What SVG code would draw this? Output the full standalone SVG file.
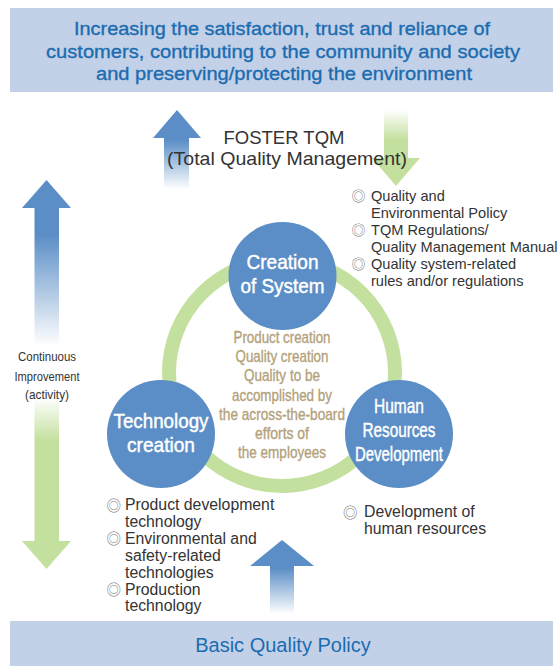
<svg xmlns="http://www.w3.org/2000/svg" width="559" height="666" viewBox="0 0 559 666">
<style>
.banner{fill:#c3d1e8}
.btxt{font-family:"Liberation Sans",Arial,sans-serif;fill:#1b6cb0;stroke:#1b6cb0;stroke-width:0.35;text-anchor:middle}
.node{fill:#5b8ec6}
.ntxt{font-family:"Liberation Sans",Arial,sans-serif;fill:#ffffff;stroke:#ffffff;stroke-width:0.45;text-anchor:middle;font-size:21px}
.ctxt{font-family:"Liberation Sans",Arial,sans-serif;fill:#b3a17a;stroke:#b3a17a;stroke-width:0.35;text-anchor:middle;font-size:17px}
.lst{font-family:"Liberation Sans",Arial,sans-serif;fill:#333333;font-size:14.6px}
.lst2{font-family:"Liberation Sans",Arial,sans-serif;fill:#333333;font-size:15.8px}
.bul{font-family:"Noto Sans CJK JP","DejaVu Sans",sans-serif;fill:#808080}
.gtxt{font-family:"Liberation Sans",Arial,sans-serif;fill:#333333;text-anchor:middle}
</style>
<defs>
<linearGradient id="gTopBlue" gradientUnits="userSpaceOnUse" x1="0" y1="140" x2="0" y2="189">
<stop offset="0" stop-color="#5b8ec6"/><stop offset="1" stop-color="#5b8ec6" stop-opacity="0"/>
</linearGradient>
<linearGradient id="gTopGreen" gradientUnits="userSpaceOnUse" x1="0" y1="110" x2="0" y2="140">
<stop offset="0" stop-color="#c4e09e" stop-opacity="0"/><stop offset="1" stop-color="#c4e09e"/>
</linearGradient>
<linearGradient id="gLeftBlue" gradientUnits="userSpaceOnUse" x1="0" y1="235" x2="0" y2="346">
<stop offset="0" stop-color="#5b8ec6"/><stop offset="1" stop-color="#5b8ec6" stop-opacity="0"/>
</linearGradient>
<linearGradient id="gLeftGreen" gradientUnits="userSpaceOnUse" x1="0" y1="398" x2="0" y2="440">
<stop offset="0" stop-color="#c4e09e" stop-opacity="0"/><stop offset="1" stop-color="#c4e09e"/>
</linearGradient>
<linearGradient id="gBotBlue" gradientUnits="userSpaceOnUse" x1="0" y1="568" x2="0" y2="614">
<stop offset="0" stop-color="#5b8ec6"/><stop offset="1" stop-color="#5b8ec6" stop-opacity="0"/>
</linearGradient>
</defs>
<rect width="559" height="666" fill="#ffffff"/>

<g id="goal">
<rect class="banner" x="10" y="8" width="543" height="84"/>
<text class="btxt" x="282" y="35" font-size="18.5" textLength="416" lengthAdjust="spacingAndGlyphs">Increasing the satisfaction, trust and reliance of</text>
<text class="btxt" x="283" y="57.5" font-size="18.5" textLength="474" lengthAdjust="spacingAndGlyphs">customers, contributing to the community and society</text>
<text class="btxt" x="284" y="80" font-size="18.5" textLength="376" lengthAdjust="spacingAndGlyphs">and preserving/protecting the environment</text>
</g>

<g id="policy">
<rect class="banner" x="10" y="621" width="543" height="45"/>
<text x="283" y="652" font-size="20" font-family="Liberation Sans, Arial, sans-serif" fill="#1b6cb0" text-anchor="middle">Basic Quality Policy</text>
</g>

<g id="connectors">
<circle cx="282" cy="373" r="113" fill="none" stroke="#c4e09e" stroke-width="14"/>
<path d="M177,110 L201,138 L189,138 L189,189 L164,189 L164,138 L153,138 Z" fill="url(#gTopBlue)"/>
<path d="M384,110 L408,110 L408,158 L420,158 L396,186 L372,158 L384,158 Z" fill="url(#gTopGreen)"/>
<path d="M46.5,180 L71,208 L59,208 L59,346 L34.5,346 L34.5,208 L22,208 Z" fill="url(#gLeftBlue)"/>
<path d="M34.5,398 L59,398 L59,541 L71,541 L46.5,569 L22,541 L34.5,541 Z" fill="url(#gLeftGreen)"/>
<path d="M282,540 L314,566 L294,566 L294,614 L270,614 L270,566 L250,566 Z" fill="url(#gBotBlue)"/>
</g>

<g id="foster-tqm">
<text class="gtxt" x="284" y="143.5" font-size="18.5">FOSTER TQM</text>
<text class="gtxt" x="287" y="164.5" font-size="18.5" textLength="240" lengthAdjust="spacingAndGlyphs">(Total Quality Management)</text>
</g>

<g id="continuous-improvement">
<text class="gtxt" x="47" y="361" font-size="13" textLength="58" lengthAdjust="spacingAndGlyphs">Continuous</text>
<text class="gtxt" x="47" y="381" font-size="13" textLength="65" lengthAdjust="spacingAndGlyphs">Improvement</text>
<text class="gtxt" x="47" y="399" font-size="13" textLength="44" lengthAdjust="spacingAndGlyphs">(activity)</text>
</g>

<g id="center-text">
<text class="ctxt" x="282" y="343" textLength="97" lengthAdjust="spacingAndGlyphs">Product creation</text>
<text class="ctxt" x="282" y="362.2" textLength="93" lengthAdjust="spacingAndGlyphs">Quality creation</text>
<text class="ctxt" x="282" y="381.4" textLength="76" lengthAdjust="spacingAndGlyphs">Quality to be</text>
<text class="ctxt" x="282" y="400.6" textLength="100" lengthAdjust="spacingAndGlyphs">accomplished by</text>
<text class="ctxt" x="282" y="419.8" textLength="126" lengthAdjust="spacingAndGlyphs">the across-the-board</text>
<text class="ctxt" x="282" y="439" textLength="54" lengthAdjust="spacingAndGlyphs">efforts of</text>
<text class="ctxt" x="282" y="458.2" textLength="88" lengthAdjust="spacingAndGlyphs">the employees</text>
</g>

<g id="creation-of-system">
<circle class="node" cx="282.5" cy="276" r="54"/>
<text class="ntxt" x="282.5" y="269" textLength="72" lengthAdjust="spacingAndGlyphs">Creation</text>
<text class="ntxt" x="282.5" y="293" textLength="84" lengthAdjust="spacingAndGlyphs">of System</text>
</g>

<g id="technology-creation">
<circle class="node" cx="161" cy="434" r="54"/>
<text class="ntxt" x="161" y="428" textLength="95" lengthAdjust="spacingAndGlyphs">Technology</text>
<text class="ntxt" x="161" y="452" textLength="68" lengthAdjust="spacingAndGlyphs">creation</text>
</g>

<g id="human-resources-development">
<circle class="node" cx="399" cy="434" r="54"/>
<text class="ntxt" x="399" y="413" font-size="19" textLength="50" lengthAdjust="spacingAndGlyphs">Human</text>
<text class="ntxt" x="399" y="437" font-size="19" textLength="73" lengthAdjust="spacingAndGlyphs">Resources</text>
<text class="ntxt" x="399" y="461" font-size="19" textLength="88" lengthAdjust="spacingAndGlyphs">Development</text>
</g>

<g id="system-items">
<text class="bul" x="351.5" y="201" font-size="14">◎</text>
<text class="lst" x="371" y="200.5">Quality and</text>
<text class="lst" x="371" y="217.5">Environmental Policy</text>
<text class="bul" x="351.5" y="235" font-size="14">◎</text>
<text class="lst" x="371" y="234.5">TQM Regulations/</text>
<text class="lst" x="371" y="251.5">Quality Management Manual</text>
<text class="bul" x="351.5" y="269" font-size="14">◎</text>
<text class="lst" x="371" y="268.5">Quality system-related</text>
<text class="lst" x="371" y="285.5">rules and/or regulations</text>
</g>

<g id="technology-items">
<text class="bul" x="106.5" y="510.5" font-size="14.5">◎</text>
<text class="lst2" x="125" y="510">Product development</text>
<text class="lst2" x="125" y="526.9">technology</text>
<text class="bul" x="106.5" y="544.3" font-size="14.5">◎</text>
<text class="lst2" x="125" y="543.8">Environmental and</text>
<text class="lst2" x="125" y="560.7">safety-related</text>
<text class="lst2" x="125" y="577.6">technologies</text>
<text class="bul" x="106.5" y="595" font-size="14.5">◎</text>
<text class="lst2" x="125" y="594.5">Production</text>
<text class="lst2" x="125" y="611.4">technology</text>
</g>

<g id="human-items">
<text class="bul" x="343" y="517.5" font-size="14.5">◎</text>
<text class="lst2" x="364" y="517">Development of</text>
<text class="lst2" x="364" y="534">human resources</text>
</g>
</svg>
